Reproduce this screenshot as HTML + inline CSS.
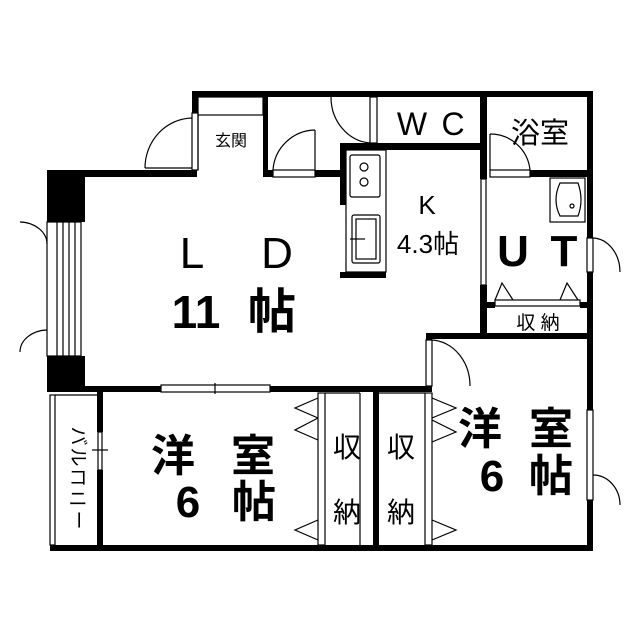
<!DOCTYPE html>
<html><head><meta charset="utf-8"><style>
html,body{margin:0;padding:0;background:#fff}
svg{display:block}
text{font-family:"Liberation Sans","Noto Sans CJK JP",sans-serif;fill:#000}
.b{font-weight:bold}
</style></head><body>
<svg width="639" height="640" viewBox="0 0 639 640" xmlns="http://www.w3.org/2000/svg">
<g fill="#000">
<rect x="192" y="91" width="401" height="6"/>
<rect x="192" y="91" width="6" height="22"/>
<rect x="263" y="91" width="5" height="79"/>
<rect x="47" y="170" width="150" height="7"/>
<rect x="263" y="170" width="10" height="7"/>
<rect x="315" y="170" width="31" height="7"/>
<rect x="47" y="170" width="38" height="52"/>
<rect x="47" y="356" width="38" height="36"/>
<rect x="47" y="386" width="114" height="6"/>
<rect x="270" y="386" width="162" height="6"/>
<rect x="340" y="143" width="147" height="7"/>
<rect x="480" y="91" width="7" height="88"/>
<rect x="480" y="285" width="7" height="54"/>
<rect x="530" y="170" width="63" height="7"/>
<rect x="587" y="91" width="6" height="147"/>
<rect x="587" y="272" width="6" height="138"/>
<rect x="587" y="500" width="6" height="50"/>
<rect x="340" y="143" width="6" height="62"/>
<rect x="340" y="272" width="46" height="6"/>
<rect x="487" y="302" width="8" height="6"/>
<rect x="580" y="302" width="10" height="6"/>
<rect x="426" y="333" width="167" height="6"/>
<rect x="426" y="333" width="6" height="7"/>
<rect x="97" y="392" width="6" height="40"/>
<rect x="97" y="470" width="6" height="80"/>
<rect x="50" y="545" width="543" height="6"/>
<rect x="373" y="392" width="6" height="155"/>
</g>
<g fill="none" stroke="#000" stroke-width="1.2">
<rect x="198" y="97" width="65" height="18"/>
<line x1="198" y1="115" x2="198" y2="170"/>
<rect x="192" y="113" width="6" height="57"/>
<path d="M192 118 A48 50 0 0 0 145 168"/>
<line x1="145" y1="168" x2="192" y2="168"/>
<rect x="273" y="170" width="42" height="7"/>
<path d="M315 130 A43 43 0 0 0 273 170"/>
<line x1="315" y1="130" x2="315" y2="170"/>
<rect x="370" y="97" width="7" height="46"/>
<path d="M370 143 A42 46 0 0 1 331 97"/>
<rect x="47" y="222" width="34" height="134"/>
<line x1="57" y1="222" x2="57" y2="356"/>
<line x1="63" y1="222" x2="63" y2="356"/>
<line x1="69" y1="222" x2="69" y2="356"/>
<line x1="75" y1="222" x2="75" y2="356"/>
<path d="M47 244 A28 22 0 0 0 20 222 M47 330 A28 22 0 0 0 20 352"/>
<rect x="161" y="385" width="109" height="7"/>
<line x1="215" y1="383" x2="215" y2="394"/>
<rect x="346" y="150" width="40" height="122"/>
<rect x="350" y="155" width="30" height="42" rx="2"/>
<circle cx="364" cy="167" r="4"/><circle cx="364" cy="182" r="4"/>
<rect x="352" y="215" width="28" height="48" rx="2"/>
<rect x="356" y="219" width="20" height="40"/>
<line x1="350" y1="239" x2="365" y2="239"/>
<rect x="490" y="170" width="40" height="7"/>
<path d="M490 134 A40 40 0 0 1 530 170"/>
<line x1="490" y1="134" x2="490" y2="170"/>
<rect x="481" y="179" width="5" height="106"/>
<rect x="550" y="178" width="35" height="44"/>
<path d="M560 183 Q552 200 560 216 L578 216 Q584 200 578 183 Z"/>
<circle cx="572" cy="206" r="2"/>
<rect x="587" y="238" width="6" height="34"/>
<path d="M593 238 A28 34 0 0 1 620 272"/>
<rect x="495" y="300" width="85" height="6"/>
<path d="M495 300 L502 283 L513 300 M560 300 L567 283 L578 300"/>
<rect x="426" y="340" width="6" height="46"/>
<path d="M432 340 A40 46 0 0 1 470 386"/>
<rect x="50" y="395" width="5" height="150"/>
<line x1="55" y1="395" x2="97" y2="395"/>
<rect x="98" y="432" width="4" height="38"/>
<line x1="92" y1="450" x2="108" y2="450"/>
<rect x="318" y="393" width="7" height="152"/>
<line x1="325" y1="393" x2="360" y2="393"/>
<line x1="360" y1="393" x2="360" y2="545"/>
<path d="M318 398 L295 408 L318 418 M318 418 L295 430 L318 440 M318 520 L295 530 L318 540"/>
<rect x="425" y="393" width="7" height="152"/>
<line x1="379" y1="393" x2="425" y2="393"/>
<path d="M432 398 L456 408 L432 418 M432 420 L456 432 L432 442 M432 520 L456 530 L432 540"/>
<rect x="587" y="410" width="6" height="90"/>
<path d="M593 475 A27 30 0 0 1 620 505"/>
</g>
<!-- labels -->
<text x="192" y="268" font-size="44" text-anchor="middle">L</text>
<text x="277" y="268" font-size="44" text-anchor="middle">D</text>
<text x="196" y="328" font-size="46" class="b" text-anchor="middle">11</text>
<text x="272" y="328" font-size="48" class="b" text-anchor="middle">帖</text>
<text x="231" y="146" font-size="16" text-anchor="middle">玄関</text>
<text x="412" y="135" font-size="32" text-anchor="middle">W</text>
<text x="453" y="135" font-size="32" text-anchor="middle">C</text>
<text x="540" y="143" font-size="29" text-anchor="middle">浴室</text>
<text x="427" y="214" font-size="26" text-anchor="middle">K</text>
<text x="428" y="253" font-size="26" text-anchor="middle">4.3帖</text>
<text x="513" y="266" font-size="44" class="b" text-anchor="middle">U</text>
<text x="564" y="266" font-size="44" class="b" text-anchor="middle">T</text>
<text x="538" y="329" font-size="19" text-anchor="middle">収 納</text>
<text x="173" y="471" font-size="44" class="b" text-anchor="middle">洋</text>
<text x="253" y="471" font-size="44" class="b" text-anchor="middle">室</text>
<text x="188" y="517" font-size="44" class="b" text-anchor="middle">6</text>
<text x="254" y="517" font-size="44" class="b" text-anchor="middle">帖</text>
<text x="480" y="444" font-size="44" class="b" text-anchor="middle">洋</text>
<text x="551" y="444" font-size="44" class="b" text-anchor="middle">室</text>
<text x="492" y="491" font-size="44" class="b" text-anchor="middle">6</text>
<text x="551" y="491" font-size="44" class="b" text-anchor="middle">帖</text>
<text x="347" y="457" font-size="28" text-anchor="middle">収</text>
<text x="347" y="522" font-size="28" text-anchor="middle">納</text>
<text x="401" y="457" font-size="28" text-anchor="middle">収</text>
<text x="401" y="522" font-size="28" text-anchor="middle">納</text>
<g font-size="19" text-anchor="middle">
<text x="78" y="442" transform="rotate(90 78 436)">バ</text>
<text x="78" y="463" transform="rotate(90 78 457)">ル</text>
<text x="78" y="484">コ</text>
<text x="78" y="505">ニ</text>
<text x="78" y="526" transform="rotate(90 78 520)">ー</text>
</g>
</svg>
</body></html>
